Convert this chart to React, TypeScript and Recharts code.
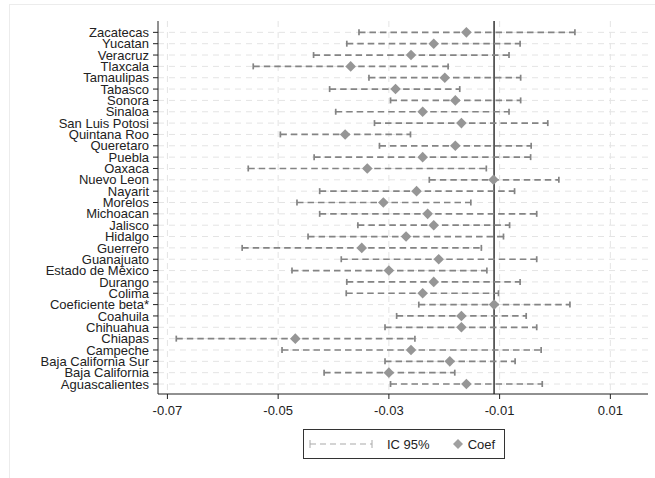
import React from 'react';
import { ComposedChart, Scatter, ErrorBar, XAxis, YAxis, CartesianGrid, ReferenceLine } from 'recharts';

// rows listed top to bottom as in the plot
const states = [
  'Zacatecas', 'Yucatan', 'Veracruz', 'Tlaxcala', 'Tamaulipas', 'Tabasco', 'Sonora', 'Sinaloa',
  'San Luis Potosi', 'Quintana Roo', 'Queretaro', 'Puebla', 'Oaxaca', 'Nuevo Leon', 'Nayarit',
  'Morelos', 'Michoacan', 'Jalisco', 'Hidalgo', 'Guerrero', 'Guanajuato', 'Estado de México',
  'Durango', 'Colima', 'Coeficiente beta*', 'Coahuila', 'Chihuahua', 'Chiapas', 'Campeche',
  'Baja California Sur', 'Baja California', 'Aguascalientes',
];

const coef = [
  -0.016, -0.0219, -0.026, -0.0369, -0.0199, -0.0288, -0.018, -0.0239,
  -0.0169, -0.0379, -0.018, -0.0239, -0.0339, -0.0111, -0.025,
  -0.031, -0.023, -0.0219, -0.0269, -0.0349, -0.021, -0.03,
  -0.0219, -0.0239, -0.011, -0.0169, -0.0169, -0.0469, -0.026,
  -0.019, -0.03, -0.016,
];

const lower = [
  -0.0354, -0.0376, -0.0436, -0.0545, -0.0336, -0.0407, -0.0297, -0.0396,
  -0.0326, -0.0496, -0.0317, -0.0435, -0.0554, -0.0227, -0.0425,
  -0.0466, -0.0425, -0.0356, -0.0446, -0.0565, -0.0386, -0.0475,
  -0.0376, -0.0377, -0.0246, -0.0286, -0.0307, -0.0684, -0.0493,
  -0.0307, -0.0417, -0.0297,
];

const upper = [
  0.0036, -0.0063, -0.0083, -0.0193, -0.0062, -0.0172, -0.0062, -0.0083,
  -0.0013, -0.0261, -0.0043, -0.0044, -0.0124, 0.0007, -0.0073,
  -0.0152, -0.0033, -0.0082, -0.0093, -0.0133, -0.0033, -0.0123,
  -0.0063, -0.0102, 0.0027, -0.0052, -0.0033, -0.0253, -0.0025,
  -0.0072, -0.0181, -0.0023,
];

const xTicks = [-0.07, -0.05, -0.03, -0.01, 0.01];
const betaLine = -0.011;

const n = states.length;
const rows = states.map((name, i) => ({
  name,
  y: n - 1 - i,
  x: coef[i],
  err: [coef[i] - lower[i], upper[i] - coef[i]],
}));
const yTicks = rows.map((r) => r.y).reverse();

const font = '"Liberation Sans", Arial, sans-serif';

const Diamond = (props: any) => {
  const { cx, cy } = props;
  const h = 5.3;
  return (
    <polygon
      points={`${cx},${cy - h} ${cx + h},${cy} ${cx},${cy + h} ${cx - h},${cy}`}
      fill="#969696"
    />
  );
};

export default function App() {
  return (
    <div style={{ position: 'absolute', left: 0, top: 0, width: 655, height: 478, overflow: 'hidden', background: '#fff', fontFamily: font }}>
      <div style={{ position: 'absolute', left: 9, top: 4, width: 700, height: 600, border: '1px solid #ececec' }} />
      <ComposedChart width={655} height={478} margin={{ top: 21, right: 7, left: 8, bottom: 54 }} style={{ position: 'absolute', left: 0, top: 0 }}>
        <CartesianGrid stroke="#e4e4e4" strokeDasharray="6 5" horizontalValues={yTicks} verticalValues={xTicks} />
        <XAxis
          type="number"
          dataKey="x"
          domain={[-0.0717, 0.0168]}
          ticks={xTicks}
          allowDataOverflow
          tickFormatter={(v: number) => v.toFixed(2)}
          tick={{ fill: '#222', fontSize: 13, fontFamily: font }}
          stroke="#222"
          tickSize={5}
          tickMargin={7}
          height={30}
        />
        <YAxis
          type="number"
          dataKey="y"
          domain={[-0.88, 32]}
          ticks={yTicks}
          interval={0}
          allowDataOverflow
          tickFormatter={(v: number) => states[n - 1 - Math.round(v)]}
          tick={{ fill: '#222', fontSize: 13, fontFamily: font }}
          stroke="#222"
          tickSize={5}
          tickMargin={4}
          width={150}
        />
        <ReferenceLine x={betaLine} stroke="#333" strokeWidth={1.5} />
        <Scatter data={rows} shape={<Diamond />} isAnimationActive={false}>
          <ErrorBar dataKey="err" direction="x" width={3} stroke="#848484" strokeWidth={1.7} strokeDasharray="6.5 4" />
        </Scatter>
      </ComposedChart>
      <div style={{ position: 'absolute', left: 303, top: 429, width: 200, height: 28, border: '1px solid #333', display: 'flex', alignItems: 'center', fontSize: 13, color: '#222' }}>
        <svg width={70} height={12} style={{ marginLeft: 5 }}>
          <line x1={1} y1={2} x2={1} y2={10} stroke="#aaa" strokeWidth={1} />
          <line x1={1} y1={6} x2={63} y2={6} stroke="#aaa" strokeWidth={1.2} strokeDasharray="6 4" />
          <line x1={63} y1={2} x2={63} y2={10} stroke="#aaa" strokeWidth={1} />
        </svg>
        <span style={{ marginLeft: 8 }}>IC 95%</span>
        <svg width={12} height={12} style={{ marginLeft: 22 }}>
          <polygon points="6,1 11,6 6,11 1,6" fill="#a0a0a0" />
        </svg>
        <span style={{ marginLeft: 4 }}>Coef</span>
      </div>
    </div>
  );
}
